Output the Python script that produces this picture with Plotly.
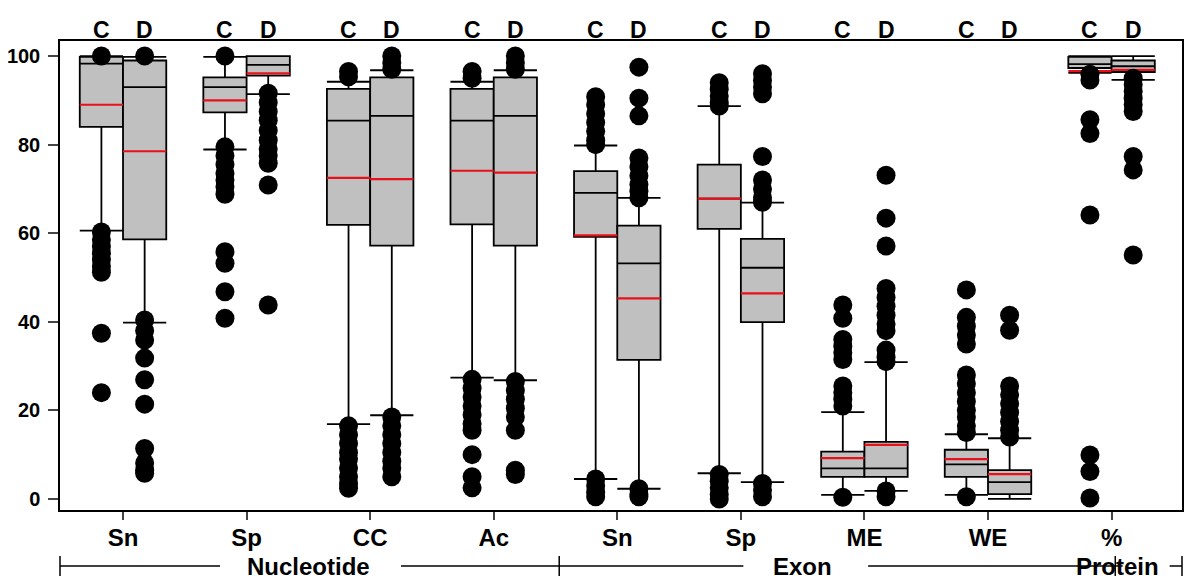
import plotly.graph_objects as go

# ---------------- data ----------------
metrics = ["Sn", "Sp", "CC", "Ac", "Sn", "Sp", "ME", "WE", "%"]
series = ["C", "D"]

# box statistics per metric (C then D)
c_q1 = [84.0, 87.3, 61.9, 62.0, 59.2, 61.0, 5.0, 5.0, 97.3]
c_median = [98.3, 93.0, 85.4, 85.4, 69.1, 67.8, 6.9, 7.8, 98.2]
c_q3 = [99.8, 95.2, 92.6, 92.6, 74.0, 75.5, 10.7, 11.1, 99.8]
c_low = [60.6, 78.9, 16.9, 27.4, 4.5, 5.8, 0.9, 0.9, 96.2]
c_high = [100.0, 99.8, 94.2, 94.2, 79.8, 88.7, 19.6, 14.6, 100.0]
c_mean = [89.0, 90.0, 72.5, 74.1, 59.5, 67.8, 9.2, 9.0, 96.6]

d_q1 = [58.6, 95.6, 57.2, 57.2, 31.4, 39.9, 5.0, 1.1, 96.4]
d_median = [93.0, 98.0, 86.5, 86.5, 53.2, 52.2, 6.9, 3.8, 97.7]
d_q3 = [99.0, 100.0, 95.2, 95.2, 61.7, 58.7, 12.9, 6.5, 99.0]
d_low = [39.8, 91.4, 18.9, 26.8, 2.3, 3.8, 1.8, 0.0, 94.6]
d_high = [99.8, 100.0, 96.8, 96.8, 68.0, 66.9, 30.9, 13.7, 100.0]
d_mean = [78.5, 96.1, 72.2, 73.7, 45.3, 46.4, 12.2, 5.6, 96.9]

# outliers per metric
c_out = [
    [100, 60.3, 58.5, 57, 55.5, 54, 52.5, 51.2, 37.4, 24.0],
    [100, 79.5, 77.5, 75.5, 73.5, 72, 70.5, 68.8, 55.8, 53.2, 46.8, 40.8],
    [96.5, 95.3, 16.5, 14.5, 12.5, 10.5, 9, 7, 5, 3.5, 2.4],
    [96.5, 95.0, 27, 25, 23, 21, 19, 17, 15.5, 10, 5, 2.5],
    [90.8, 89, 87, 85, 83, 81, 80, 4.5, 3, 1.5, 0.5],
    [94, 92.5, 91, 89.5, 88.7, 5.5, 4, 2.5, 1, 0],
    [43.8, 40.8, 36, 34.5, 33, 31.5, 25.5, 24, 22.5, 21, 0.4],
    [47.2, 41, 39, 37, 35, 28, 26, 24, 22, 20, 18.5, 16.5, 15, 0.5],
    [95.9, 94.6, 85.6, 82.5, 64.1, 9.9, 6.2, 0.2],
]
d_out = [
    [100, 40.4, 38, 35.9, 31.8, 26.9, 21.4, 11.4, 8.1, 6.5, 5.8],
    [91.6, 89.5, 87.5, 85.5, 83.2, 81, 79, 77.5, 75.8, 70.9, 43.8],
    [100, 98.5, 97, 18.5, 16.5, 14.5, 12.5, 10.5, 8.5, 7, 5],
    [100, 98.5, 97, 26.5, 24.5, 22.5, 20.5, 18.5, 15.5, 6.5, 5.5],
    [97.5, 90.5, 86.5, 77, 75, 73, 71, 69.5, 68, 2.3, 1, 0.5],
    [96, 94.5, 93, 91.5, 77.3, 72, 70, 68, 67, 3.5, 2, 0.5],
    [73.1, 63.4, 57.1, 47.5, 45.5, 43.5, 41.5, 39.5, 38, 33.6, 32, 31, 1.8, 0.5],
    [41.5, 38.1, 25.5, 23.5, 21.5, 19.5, 17.5, 15.5, 14],
    [95, 93.5, 92, 90.5, 89, 87.5, 77.3, 74.3, 55.1],
]

y_ticks = [0, 20, 40, 60, 80, 100]
groups = ["Nucleotide", "Exon", "Protein"]

# ---------------- layout constants ----------------
BW = 0.35            # box width in x units
XMIN, XMAX = -0.51, 8.57
FONT = "Liberation Sans, Arial, Helvetica, sans-serif"

idx = list(range(len(metrics)))
xc = [i - BW / 2 for i in idx]
xd = [i + BW / 2 for i in idx]

fig = go.Figure()

for xs, q1, med, q3, lo, hi in [(xc, c_q1, c_median, c_q3, c_low, c_high),
                                (xd, d_q1, d_median, d_q3, d_low, d_high)]:
    fig.add_trace(go.Box(
        x=xs, q1=q1, median=med, q3=q3, lowerfence=lo, upperfence=hi,
        width=BW, whiskerwidth=1, fillcolor="#c0c0c0",
        line=dict(color="black", width=1.8), boxpoints=False,
        showlegend=False, hoverinfo="skip"))

# mean lines (red)
for xs, means in [(xc, c_mean), (xd, d_mean)]:
    lx, ly = [], []
    for x, m in zip(xs, means):
        lx += [x - BW / 2, x + BW / 2, None]
        ly += [m, m, None]
    fig.add_trace(go.Scatter(x=lx, y=ly, mode="lines",
                             line=dict(color="#e8101a", width=2.2),
                             showlegend=False, hoverinfo="skip"))

# outliers
for xs, outs in [(xc, c_out), (xd, d_out)]:
    ox, oy = [], []
    for x, vals in zip(xs, outs):
        ox += [x] * len(vals)
        oy += vals
    fig.add_trace(go.Scatter(x=ox, y=oy, mode="markers",
                             marker=dict(color="black", size=19, line=dict(width=0)),
                             showlegend=False, hoverinfo="skip", cliponaxis=False))


def px(x):
    return (x - XMIN) / (XMAX - XMIN)


annotations = []
for i in idx:
    for lab, x in zip(series, (xc[i], xd[i])):
        annotations.append(dict(x=x, y=1.0235, xref="x", yref="paper",
                                text="<b>%s</b>" % lab, showarrow=False,
                                yanchor="middle", font=dict(size=23, family=FONT, color="black")))

# group brackets below the axis
GY = (510 - 566) / 469
group_centers = [1.5, 5.5, 8.05]
bounds = [XMIN, 3.53, 8.03, XMAX]
text_gaps = [(0.785, 2.25), (5.02, 6.03), (8.09, 8.47)]
shapes = []
for g, (gc, (a, b)) in enumerate(zip(group_centers, text_gaps)):
    annotations.append(dict(x=px(gc), y=GY, xref="paper", yref="paper",
                            text="<b>%s</b>" % groups[g], showarrow=False,
                            yanchor="middle", xanchor="center",
                            font=dict(size=24, family=FONT, color="black")))
    shapes.append(dict(type="line", xref="paper", yref="paper",
                       x0=px(bounds[g]), x1=px(a), y0=GY, y1=GY,
                       line=dict(color="black", width=1.5)))
    shapes.append(dict(type="line", xref="paper", yref="paper",
                       x0=px(b), x1=px(bounds[g + 1]), y0=GY, y1=GY,
                       line=dict(color="black", width=1.5)))
for bx in bounds:
    shapes.append(dict(type="line", xref="paper", yref="paper",
                       x0=px(bx), x1=px(bx), y0=GY - 10 / 469, y1=GY + 10 / 469,
                       line=dict(color="black", width=1.5)))

# page body has an 8px margin, so the figure is offset by 8px inside the page
fig.update_layout(
    width=1184, height=580,
    margin=dict(l=52, r=10, t=33, b=78),
    plot_bgcolor="white", paper_bgcolor="white",
    font=dict(family=FONT, color="black"),
    annotations=annotations, shapes=shapes,
    xaxis=dict(range=[XMIN, XMAX], tickmode="array", tickvals=idx,
               ticktext=["<b>%s</b>" % m for m in metrics],
               tickfont=dict(size=24, family=FONT), ticks="outside", ticklen=8,
               tickwidth=1.5, showline=True, linecolor="black", linewidth=1.5,
               mirror=True, showgrid=False, zeroline=False, ticklabelstandoff=-3,
               automargin=False),
    yaxis=dict(range=[-2.5, 103.4], tickmode="array", tickvals=y_ticks,
               ticktext=["<b>%d</b>" % t for t in y_ticks],
               tickfont=dict(size=20, family=FONT), ticks="outside", ticklen=10,
               tickwidth=1.5, showline=True, linecolor="black", linewidth=1.5,
               mirror=True, showgrid=False, zeroline=False, ticklabelstandoff=4,
               automargin=False),
)

fig.write_html("out.html")
